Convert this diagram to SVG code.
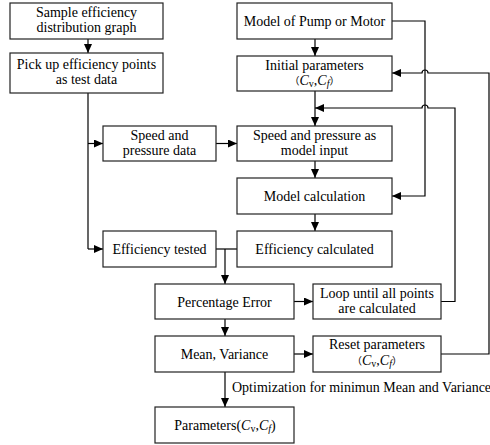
<svg xmlns="http://www.w3.org/2000/svg" width="490" height="445" viewBox="0 0 490 445" font-family="Liberation Serif, Times New Roman, serif">
<style>
rect{fill:#fff;stroke:#222;stroke-width:1.2}
text{font-size:14px;fill:#000;text-anchor:middle}
.c path,.c line{fill:none;stroke:#000;stroke-width:1.2}
.i{font-style:italic}
.s{font-size:10px}
.p{font-family:"Noto Sans CJK SC",sans-serif;font-size:10px}
</style>
<defs>
<marker id="a" markerUnits="userSpaceOnUse" markerWidth="10" markerHeight="8" refX="9" refY="4" orient="auto">
<path d="M0,0 L9,4 L0,8 Z" fill="#000"/>
</marker>
</defs>
<g class="c" id="connectors">
<line x1="88" y1="39" x2="88" y2="53" marker-end="url(#a)"/>
<path d="M88,93 V249"/>
<line x1="88" y1="143.5" x2="103" y2="143.5" marker-end="url(#a)"/>
<line x1="88" y1="249" x2="103" y2="249" marker-end="url(#a)"/>
<line x1="216" y1="143.5" x2="237" y2="143.5" marker-end="url(#a)"/>
<line x1="315" y1="39" x2="315" y2="56" marker-end="url(#a)"/>
<line x1="315" y1="91" x2="315" y2="126" marker-end="url(#a)"/>
<line x1="315" y1="161" x2="315" y2="178" marker-end="url(#a)"/>
<line x1="315" y1="214" x2="315" y2="231" marker-end="url(#a)"/>
<path d="M392,21 H425 V196 H392" marker-end="url(#a)"/>
<path d="M216,249 H237"/>
<line x1="225" y1="249" x2="225" y2="284" marker-end="url(#a)"/>
<line x1="294" y1="301.5" x2="313" y2="301.5" marker-end="url(#a)"/>
<path d="M441,301.5 H455 V108 H428 A3,3 0 0 0 422,108 H315" marker-end="url(#a)"/>
<line x1="225" y1="319" x2="225" y2="336" marker-end="url(#a)"/>
<line x1="294" y1="354" x2="313" y2="354" marker-end="url(#a)"/>
<path d="M441,354 H489 V73 H428 A3,3 0 0 0 422,73 H392" marker-end="url(#a)"/>
<line x1="225" y1="372" x2="225" y2="407" marker-end="url(#a)"/>
</g>
<g id="n1"><rect x="10" y="3" width="153" height="36"/><text x="86.5" y="17">Sample efficiency</text><text x="86.5" y="32">distribution graph</text></g>
<g id="n2"><rect x="10" y="53" width="153" height="40"/><text x="86.5" y="69">Pick up efficiency points</text><text x="86.5" y="84">as test data</text></g>
<g id="n3"><rect x="237" y="3" width="155" height="36"/><text x="314.5" y="26">Model of Pump or Motor</text></g>
<g id="n4"><rect x="237" y="56" width="155" height="35"/><text x="314.5" y="69.5">Initial parameters</text><text x="314.5" y="85"><tspan class="p">（</tspan><tspan class="i">C</tspan><tspan class="s" dy="2">v</tspan><tspan dy="-2">,</tspan><tspan class="i">C</tspan><tspan class="s i" dy="2">f</tspan><tspan class="p" dy="-2">）</tspan></text></g>
<g id="n5"><rect x="103" y="126" width="113" height="35"/><text x="159.5" y="139.5">Speed and</text><text x="159.5" y="154.5">pressure data</text></g>
<g id="n6"><rect x="237" y="126" width="155" height="35"/><text x="314.5" y="139.5">Speed and pressure as</text><text x="314.5" y="154.5">model input</text></g>
<g id="n7"><rect x="237" y="178" width="155" height="36"/><text x="314.5" y="201">Model calculation</text></g>
<g id="n8"><rect x="103" y="231" width="113" height="36"/><text x="159.5" y="254">Efficiency tested</text></g>
<g id="n9"><rect x="237" y="231" width="155" height="36"/><text x="314.5" y="254">Efficiency calculated</text></g>
<g id="n10"><rect x="155" y="284" width="139" height="35"/><text x="224.5" y="306.5">Percentage Error</text></g>
<g id="n11"><rect x="313" y="284" width="128" height="35"/><text x="377" y="297.5">Loop until all points</text><text x="377" y="312.5">are calculated</text></g>
<g id="n12"><rect x="155" y="336" width="139" height="36"/><text x="224.5" y="359">Mean, Variance</text></g>
<g id="n13"><rect x="313" y="336" width="128" height="36"/><text x="377" y="349">Reset parameters</text><text x="377" y="364.5"><tspan class="p">（</tspan><tspan class="i">C</tspan><tspan class="s" dy="2">v</tspan><tspan dy="-2">,</tspan><tspan class="i">C</tspan><tspan class="s i" dy="2">f</tspan><tspan class="p" dy="-2">）</tspan></text></g>
<g id="n14"><rect x="155" y="407" width="139" height="36"/><text x="225" y="430">Parameters(<tspan class="i">C</tspan><tspan class="s" dy="2">v</tspan><tspan dy="-2">,</tspan><tspan class="i">C</tspan><tspan class="s i" dy="2">f</tspan><tspan dy="-2">)</tspan></text></g>
<text x="232" y="392" style="text-anchor:start">Optimization for minimun Mean and Variance</text>
</svg>
